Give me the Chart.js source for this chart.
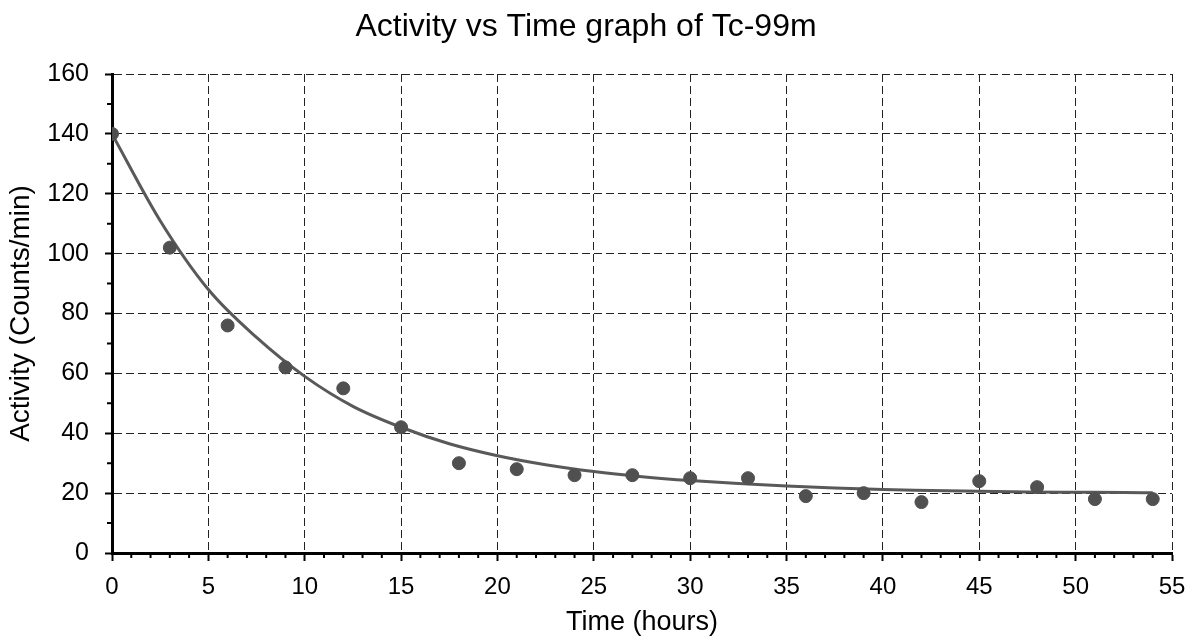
<!DOCTYPE html>
<html>
<head>
<meta charset="utf-8">
<script src="https://cdn.jsdelivr.net/npm/chart.js@4"></script>
<style>
  html, body { margin: 0; padding: 0; background: #fff; }
  #wrap { width: 1192px; height: 639px; }
</style>
</head>
<body>
<div id="wrap"><canvas id="decayChart" width="1192" height="639"></canvas></div>
<script>
// measured points
const hours = [0, 3, 6, 9, 12, 15, 18, 21, 24, 27, 30, 33, 36, 39, 42, 45, 48, 51, 54];
const activity = [140, 102, 76, 62, 55, 42, 30, 28, 26, 26, 25, 25, 19, 20, 17, 24, 22, 18, 18];

// fitted curve
const fitHours = [0, 2.5, 5, 7.5, 10, 12.5, 15, 17.5, 20, 22.5, 25, 27.5, 30, 32.5, 35, 37.5, 40, 42.5, 45, 47.5, 50, 52.5, 54];
const fitActivity = [140, 111, 88, 72, 59, 49, 42, 36.5, 32.5, 29.5, 27.2, 25.5, 24.2, 23.2, 22.4, 21.7, 21.2, 20.9, 20.6, 20.4, 20.3, 20.2, 20.1];

const FONT = "'Liberation Sans', Arial, sans-serif";

// small tick marks between the labelled ones
const minorTicks = {
    id: 'minorTicks',
    afterDraw(chart) {
        const { ctx, scales: { x, y } } = chart;
        ctx.save();
        ctx.strokeStyle = '#000';
        ctx.lineWidth = 2;
        ctx.beginPath();
        for (let v = 1; v < 55; v++) {
            if (v % 5 === 0) continue;
            const px = x.getPixelForValue(v);
            ctx.moveTo(px, y.bottom);
            ctx.lineTo(px, y.bottom + 5);
        }
        for (let v = 10; v < 160; v += 20) {
            const py = y.getPixelForValue(v);
            ctx.moveTo(x.left - 5, py);
            ctx.lineTo(x.left, py);
        }
        ctx.stroke();
        ctx.restore();
    }
};

document.addEventListener('DOMContentLoaded', () => {
    const ctx = document.getElementById('decayChart').getContext('2d');

    new Chart(ctx, {
        type: 'scatter',
        data: {
            datasets: [
                {
                    label: 'Measured',
                    data: hours.map((h, i) => ({ x: h, y: activity[i] })),
                    backgroundColor: '#505050',
                    borderColor: '#505050',
                    pointRadius: 6.5,
                    order: 0,
                },
                {
                    label: 'Fit',
                    type: 'line',
                    data: fitHours.map((h, i) => ({ x: h, y: fitActivity[i] })),
                    borderColor: '#595959',
                    borderWidth: 3,
                    pointRadius: 0,
                    fill: false,
                    cubicInterpolationMode: 'monotone',
                    order: 1,
                },
            ],
        },
        options: {
            responsive: false,
            animation: false,
            layout: { padding: { left: 0, right: 20, top: 0, bottom: 0 } },
            plugins: {
                legend: { display: false },
                tooltip: { enabled: false },
                title: {
                    display: true,
                    text: 'Activity vs Time graph of Tc-99m',
                    color: '#000',
                    font: { family: FONT, size: 32, weight: 'normal' },
                    padding: { top: 8, bottom: 27.6 },
                },
            },
            scales: {
                x: {
                    type: 'linear',
                    min: 0,
                    max: 55,
                    afterFit: s => {
                        s.height = 86;
                        s.paddingLeft = 0;
                        s.paddingRight = 0;
                    },
                    ticks: {
                        stepSize: 5,
                        color: '#000',
                        padding: 12,
                        font: { family: FONT, size: 24 },
                        maxRotation: 0,
                    },
                    grid: {
                        color: '#222',
                        lineWidth: 1,
                        tickColor: '#000',
                        tickWidth: 2,
                        tickLength: 8,
                        tickBorderDash: [],
                    },
                    border: { display: true, color: '#000', width: 3, dash: [8, 4] },
                    title: {
                        display: true,
                        text: 'Time (hours)',
                        color: '#000',
                        font: { family: FONT, size: 27 },
                        padding: { top: 0, bottom: 0 },
                    },
                },
                y: {
                    min: 0,
                    max: 160,
                    afterFit: s => { s.width = 112; },
                    ticks: {
                        stepSize: 20,
                        color: '#000',
                        padding: 16,
                        font: { family: FONT, size: 25 },
                    },
                    grid: {
                        color: '#222',
                        lineWidth: 1,
                        tickColor: '#000',
                        tickWidth: 2,
                        tickLength: 7,
                        tickBorderDash: [],
                    },
                    border: { display: true, color: '#000', width: 3, dash: [8, 4] },
                    title: {
                        display: true,
                        text: 'Activity (Counts/min)',
                        color: '#000',
                        font: { family: FONT, size: 28 },
                        padding: { top: 4, bottom: 0 },
                    },
                },
            },
        },
        plugins: [minorTicks],
    });
});
</script>
</body>
</html>
